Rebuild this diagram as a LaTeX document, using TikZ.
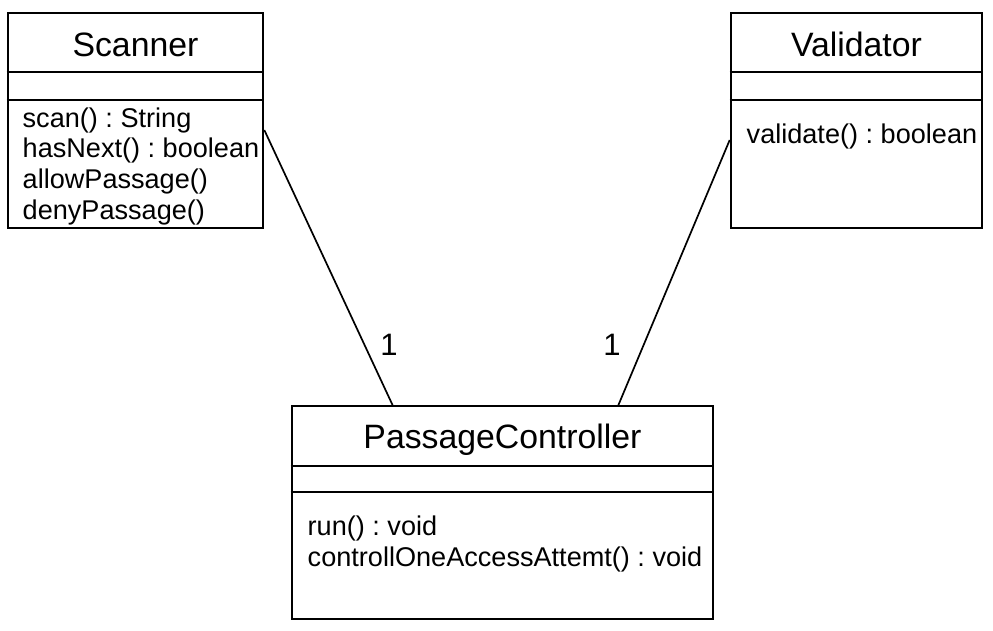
\documentclass[tikz,border=0pt]{standalone}
\usepackage{fontspec}
\setmainfont{Liberation Sans}
\frenchspacing
\begin{document}
\begin{tikzpicture}[x=1pt,y=-1pt,
  umlbox/.style={draw=black, line width=2.6pt, rectangle, inner sep=0pt},
  sep/.style={draw=black, line width=2.6pt},
  assoc/.style={draw=black, line width=1.7pt},
  title/.style={anchor=base, inner sep=0pt, font=\fontsize{33.8}{40}\selectfont},
  meth/.style={anchor=base west, inner sep=0pt, font=\fontsize{27.1}{31}\selectfont},
  mult/.style={anchor=base, inner sep=0pt, font=\fontsize{31}{36}\selectfont}]
\useasboundingbox (0,0) rectangle (993,631);
% Scanner
\node[umlbox, minimum width=255pt, minimum height=215pt] (scanner) at (135.5,120.5) {};
\draw[sep] (scanner.west |- 0,72) -- (scanner.east |- 0,72);
\draw[sep] (scanner.west |- 0,100) -- (scanner.east |- 0,100);
\node[title] (scannerT) at (135.5,57) {Scanner};
\node[meth] (s1) at (22.5,127.5) {scan() : String};
\node[meth] (s2) at (22.5,158) {hasNext() : boolean};
\node[meth] (s3) at (22.5,188.5) {allowPassage()};
\node[meth] (s4) at (22.5,219) {denyPassage()};
% Validator
\node[umlbox, minimum width=251pt, minimum height=215pt] (validator) at (856.5,120.5) {};
\draw[sep] (validator.west |- 0,72) -- (validator.east |- 0,72);
\draw[sep] (validator.west |- 0,100) -- (validator.east |- 0,100);
\node[title] (validatorT) at (856.5,57) {Validator};
\node[meth] (v1) at (746.5,143.5) {validate() : boolean};
% PassageController
\node[umlbox, minimum width=421pt, minimum height=213pt] (pc) at (502.5,512.5) {};
\draw[sep] (pc.west |- 0,466) -- (pc.east |- 0,466);
\draw[sep] (pc.west |- 0,492) -- (pc.east |- 0,492);
\node[title] (pcT) at (502.5,448) {PassageController};
\node[meth] (p1) at (307.5,535.5) {run() : void};
\node[meth] (p2) at (307.5,566) {controllOneAccessAttemt() : void};
% associations
\coordinate (sa) at (scanner.east |- 0,130);
\coordinate (pa) at (393,406);
\coordinate (va) at (validator.west |- 0,140);
\coordinate (pb) at (618,406);
\draw[assoc] (sa) -- (pa);
\draw[assoc] (va) -- (pb);
\node[mult] (m1) at (389,355) {1};
\node[mult] (m2) at (612,355) {1};
\end{tikzpicture}
\end{document}
